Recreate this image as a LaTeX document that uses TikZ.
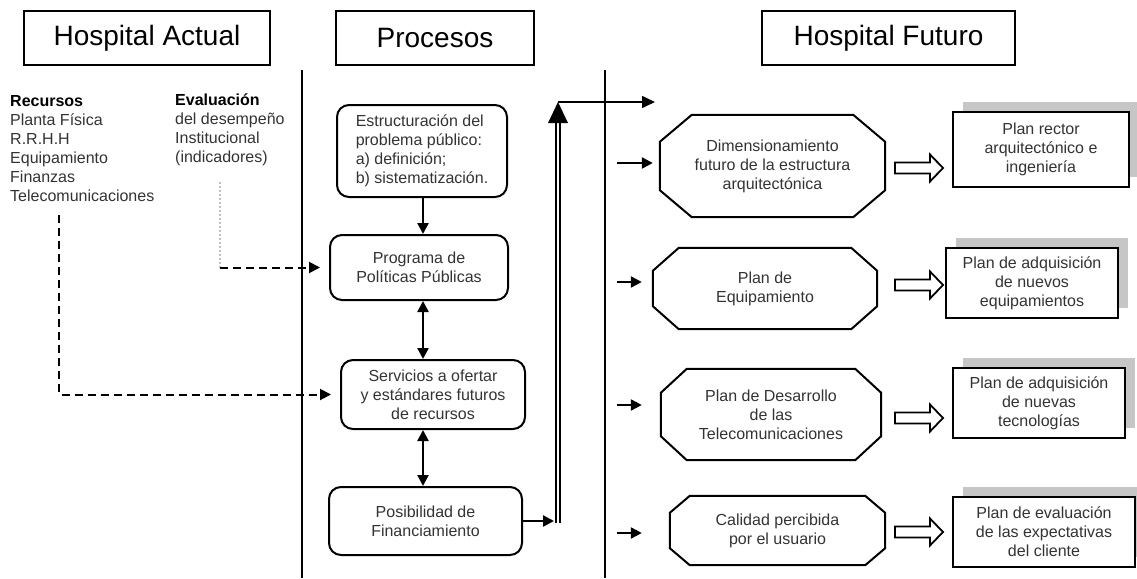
\documentclass[tikz,border=0pt]{standalone}
\usepackage{fontspec}
\setmainfont{Liberation Sans}
\usetikzlibrary{arrows.meta,calc,shadows}

% chamfered outline around a named node: #2 = horizontal cut, #3 = vertical cut
\newcommand\octframe[3]{%
  \draw[line width=2pt, line join=miter]
    ($(#1.north west)+(#2,0)$) -- ($(#1.north east)+(-#2,0)$) --
    ($(#1.north east)+(0,#3)$) -- ($(#1.south east)+(0,-#3)$) --
    ($(#1.south east)+(-#2,0)$) -- ($(#1.south west)+(#2,0)$) --
    ($(#1.south west)+(0,-#3)$) -- ($(#1.north west)+(0,#3)$) -- cycle;}

\begin{document}
\begin{tikzpicture}[x=1pt,y=-1pt,
  every node/.style={inner sep=0pt, text=black!80},
  txt/.style={font=\fontsize{16}{19}\selectfont, align=center},
  header/.style={draw, line width=2pt, font=\fontsize{28}{32}\selectfont,
    text=black, minimum height=54pt},
  procbox/.style={draw, line width=2pt, rounded corners=12pt, txt},
  octbox/.style={txt},
  resbox/.style={draw, line width=2pt, fill=white, txt,
    general shadow={fill=gray!45, shadow xshift=10pt, shadow yshift=10pt}},
  arr/.style={line width=2.3pt, -{Triangle[length=11pt,width=11pt]}},
  biarr/.style={line width=2.3pt,
    {Triangle[length=11pt,width=11pt]}-{Triangle[length=11pt,width=11pt]}},
  dasharr/.style={line width=2pt, dash pattern=on 8pt off 5pt,
    -{Triangle[length=11pt,width=11pt]}, shorten >=9pt},
  divider/.style={line width=2.6pt},
  pics/fatarrow/.style={code={
    \draw[line width=1.8pt, fill=white, line join=miter]
      (-24,-5.5) -- (11,-5.5) -- (11,-13.5) -- (24,0) -- (11,13.5)
      -- (11,5.5) -- (-24,5.5) -- cycle;}},
]
\useasboundingbox (0,0) rectangle (1137,578);

% column headers
\node[header, minimum width=246pt] (hA) at (147,38) {Hospital Actual};
\node[header, minimum width=198pt] (hP) at (435,38) {Procesos};
\node[header, minimum width=253pt] (hF) at (888.5,38) {Hospital Futuro};

% column dividers
\coordinate (d1t) at (302,70); \coordinate (d1b) at (302,578);
\coordinate (d2t) at (605,70); \coordinate (d2b) at (605,578);
\draw[divider] (d1t) -- (d1b);
\draw[divider] (d2t) -- (d2b);

% current hospital inputs
\node[txt, align=left, anchor=north west] (rec) at (10,95)
  {\textcolor{black}{\textbf{Recursos}}\\Planta Física\\R.R.H.H\\Equipamiento\\Finanzas\\Telecomunicaciones};
\node[txt, align=left, anchor=north west] (eva) at (175,94)
  {\textcolor{black}{\textbf{Evaluación}}\\del desempeño\\Institucional\\(indicadores)};

% process chain
\node[procbox, align=left, minimum width=170pt, minimum height=92pt] (est) at (422,151)
  {Estructuración del\\problema público:\\a) definición;\\b) sistematización.};
\node[procbox, minimum width=178pt, minimum height=65pt] (prog) at (419,267.5)
  {Programa de\\Políticas Públicas};
\node[procbox, minimum width=184pt, minimum height=69pt] (serv) at (433,394.5)
  {Servicios a ofertar\\y estándares futuros\\de recursos};
\node[procbox, minimum width=193pt, minimum height=68pt] (pos) at (425.5,521)
  {Posibilidad de\\Financiamiento};

\coordinate (axis) at (423,0);
\draw[arr] (est.south -| axis) -- (prog.north -| axis);
\draw[biarr] (prog.south -| axis) -- (serv.north -| axis);
\draw[biarr] (serv.south -| axis) -- (pos.north -| axis);

% inputs into the processes
\coordinate (recEnd) at (59,215);
\draw[dasharr] (recEnd) |- (serv.west);
\coordinate (evaEnd) at (220,182);
\draw[gray!50, line width=1.8pt, dash pattern=on 2pt off 2pt] (evaEnd) -- (evaEnd |- prog.west);
\draw[dasharr] (evaEnd |- prog.west) -- (prog.west);

% financing feeds the future hospital
\coordinate (dtop) at (558,102);
\draw[arr, shorten >=4pt] (pos.east) -- (pos.east -| dtop);
\draw[line width=1.7pt, double, double distance=2.2pt]
  ($(pos.east -| dtop)+(0,1.5)$) -- ($(dtop)+(0,19)$);
\fill (dtop) -- ++(-10,21) -- ++(20,0) -- cycle;
\coordinate (topEnd) at (655,102);
\draw[line width=1.6pt, -{Triangle[length=13pt,width=12pt]}] (dtop) -- (topEnd);

% future hospital plans
\node[octbox, minimum width=225pt, minimum height=102pt] (o1) at (772.5,166)
  {Dimensionamiento\\futuro de la estructura\\arquitectónica};
\octframe{o1}{32}{27}
\node[octbox, minimum width=224pt, minimum height=81pt] (o2) at (765,288.5)
  {Plan de\\Equipamiento};
\octframe{o2}{26}{23}
\node[octbox, minimum width=220pt, minimum height=91pt] (o3) at (771,414.5)
  {Plan de Desarrollo\\de las\\Telecomunicaciones};
\octframe{o3}{26}{24}
\node[octbox, minimum width=215pt, minimum height=69pt] (o4) at (777.5,530.5)
  {Calidad percibida\\por el usuario};
\octframe{o4}{20}{17}

\coordinate (s1) at (617,163);
\coordinate (s2) at (617,282);
\coordinate (s3) at (617,405);
\coordinate (s4) at (617,533);
\draw[arr, shorten >=7pt] (s1) -- (s1 -| o1.west);
\draw[arr, shorten >=11pt] (s2) -- (s2 -| o2.west);
\draw[arr, shorten >=19pt] (s3) -- (s3 -| o3.west);
\draw[arr, shorten >=28pt] (s4) -- (s4 -| o4.west);

% resulting plans
\node[resbox, minimum width=176pt, minimum height=75pt] (r1) at (1041,149.5)
  {Plan rector\\arquitectónico e\\ingeniería};
\node[resbox, minimum width=172pt, minimum height=70pt] (r2) at (1032,283)
  {Plan de adquisición\\de nuevos\\equipamientos};
\node[resbox, minimum width=172pt, minimum height=70pt] (r3) at (1039,403)
  {Plan de adquisición\\de nuevas\\tecnologías};
\node[resbox, minimum width=182pt, minimum height=70pt] (r4) at (1044,532)
  {Plan de evaluación\\de las expectativas\\del cliente};

% hollow arrows from each plan to its result
\pic at (919,168) {fatarrow};
\pic at (919,285) {fatarrow};
\pic at (919,418) {fatarrow};
\pic at (919,532) {fatarrow};
\end{tikzpicture}
\end{document}
